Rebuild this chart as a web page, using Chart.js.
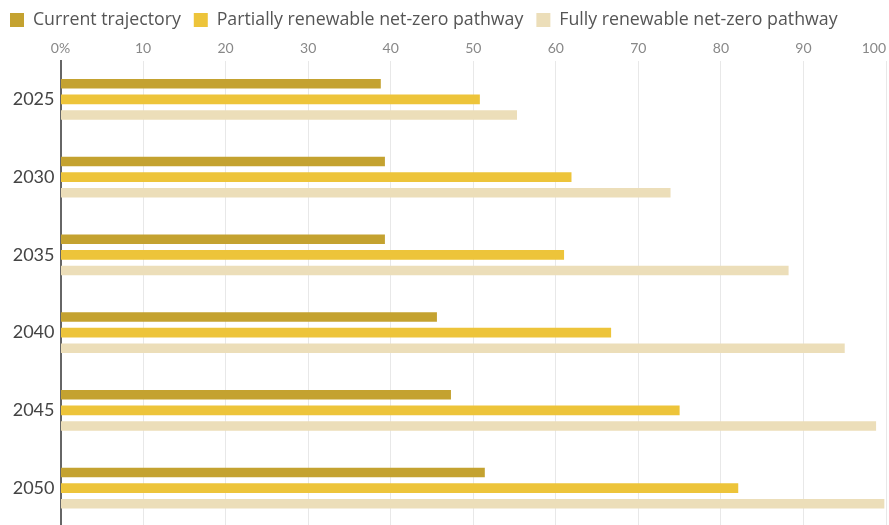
<!DOCTYPE html>
<html>
<head>
<meta charset="utf-8">
<title>Renewable share by pathway</title>
<script src="https://cdn.jsdelivr.net/npm/chart.js@4.4.1/dist/chart.umd.min.js"></script>
<style>
  html, body { margin: 0; padding: 0; background: #fff; overflow: hidden; }
  #wrap { position: relative; width: 889px; height: 527px; }
</style>
</head>
<body>
<div id="wrap"><canvas id="chart"></canvas></div>
<script>
const years = ["2025", "2030", "2035", "2040", "2045", "2050"];
const currentTrajectory = [38.8, 39.3, 39.3, 45.6, 47.3, 51.4];
const partialRenewable = [50.8, 61.9, 61.0, 66.7, 75.0, 82.1];
const fullRenewable = [55.3, 73.9, 88.2, 95.0, 98.8, 99.8];
const seriesNames = ["Current trajectory", "Partially renewable net-zero pathway", "Fully renewable net-zero pathway"];
const seriesColors = ["#c4a230", "#edc43a", "#ecdeb9"];

const FONT = "Lato, 'Noto Sans', sans-serif";
const LEGEND_FONT = "'Open Sans', 'Noto Sans', sans-serif";

// keep the last top tick label inside the canvas by right-aligning it on its gridline
const lastTickInside = {
  id: "lastTickInside",
  beforeDraw(chart) {
    const items = chart.scales.x.getLabelItems();
    const last = items[items.length - 1];
    if (last) last.options.textAlign = "right";
  },
};

new Chart(document.getElementById("chart"), {
  type: "bar",
  data: {
    labels: years,
    datasets: [currentTrajectory, partialRenewable, fullRenewable].map((data, i) => ({
      label: seriesNames[i],
      data,
      backgroundColor: seriesColors[i],
      borderWidth: 0,
      categoryPercentage: 0.606,
      barPercentage: 0.61,
    })),
  },
  options: {
    indexAxis: "y",
    responsive: true,
    maintainAspectRatio: false,
    animation: false,
    layout: { padding: { top: -2, right: 3, left: -3, bottom: 0 } },
    plugins: {
      tooltip: { enabled: false },
      legend: {
        position: "top",
        align: "start",
        labels: {
          boxWidth: 14,
          boxHeight: 14,
          padding: 13,
          color: "#555",
          font: { family: LEGEND_FONT, size: 17.75 },
        },
      },
    },
    scales: {
      x: {
        position: "top",
        min: 0,
        max: 100,
        ticks: {
          stepSize: 10,
          padding: 4,
          color: "#888",
          font: { family: FONT, size: 14 },
          callback: (v) => (v === 0 ? "0%" : String(v)),
        },
        grid: { color: "#e8e8e8", lineWidth: 1, drawTicks: false },
        border: { display: false },
        afterFit: (scale) => { scale.height = 21.75; scale.paddingRight = 0; },
      },
      y: {
        ticks: {
          padding: 6,
          color: "#444",
          font: { family: FONT, size: 18 },
        },
        grid: { display: false, drawTicks: false },
        border: { color: "#666", width: 2 },
        afterFit: (scale) => {
          scale.width = 63.5;
          scale.paddingTop = 0;
          scale.paddingBottom = 0;
        },
      },
    },
  },
  plugins: [lastTickInside],
});
</script>
</body>
</html>
